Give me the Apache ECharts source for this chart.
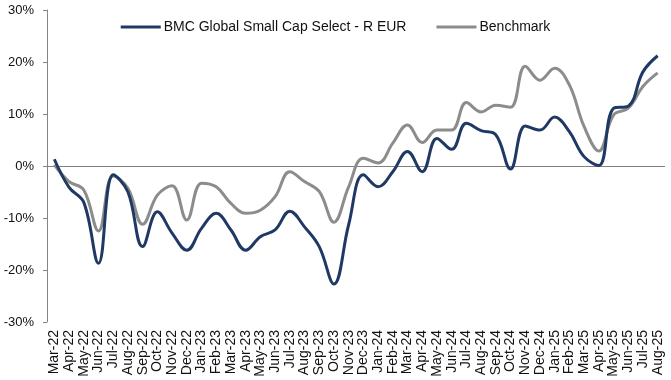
<!DOCTYPE html>
<html><head><meta charset="utf-8">
<script src="https://cdn.jsdelivr.net/npm/echarts@6/dist/echarts.min.js"></script>
<style>html,body{margin:0;padding:0;background:#fff}#c{width:671px;height:380px}</style>
</head><body><div id="c"></div>
<script>
var months = ["Mar-22","Apr-22","May-22","Jun-22","Jul-22","Aug-22","Sep-22","Oct-22","Nov-22","Dec-22","Jan-23","Feb-23","Mar-23","Apr-23","May-23","Jun-23","Jul-23","Aug-23","Sep-23","Oct-23","Nov-23","Dec-23","Jan-24","Feb-24","Mar-24","Apr-24","May-24","Jun-24","Jul-24","Aug-24","Sep-24","Oct-24","Nov-24","Dec-24","Jan-25","Feb-25","Mar-25","Apr-25","May-25","Jun-25","Jul-25","Aug-25"];
var fund = [1.3,-4.1,-7.0,-18.7,-1.7,-5.0,-15.5,-8.8,-12.9,-16.2,-12.0,-9.1,-12.3,-16.2,-13.6,-12.3,-8.7,-11.7,-15.5,-22.7,-11.3,-1.7,-4.0,-1.1,2.8,-1.1,5.3,3.2,8.2,6.8,6.0,-0.6,7.7,6.9,9.4,6.6,1.8,0.1,11.1,11.5,18.1,21.2];
var bench = [0.2,-3.0,-4.6,-12.5,-1.9,-4.3,-11.2,-5.6,-3.8,-10.4,-3.3,-4.0,-7.2,-9.1,-8.5,-5.9,-1.1,-3.0,-4.9,-10.8,-4.0,1.5,0.6,4.4,7.9,4.5,6.9,6.9,12.2,10.4,11.7,11.3,19.2,16.5,18.8,15.6,7.6,2.9,9.8,11.1,15.3,17.9];
var seriesNames = ["BMC Global Small Cap Select - R EUR","Benchmark"];
var yTicks = {min:-30, max:30, interval:10};

var chart = echarts.init(document.getElementById('c'));
var font = 'Liberation Sans, Arial, sans-serif';
chart.setOption({
  animation:false,
  textStyle:{fontFamily:font},
  legend:{
    top:15, left:'center',
    itemWidth:40, itemHeight:3, itemGap:30,
    icon:'rect',
    textStyle:{fontSize:14, color:'#111', fontFamily:font, padding:[0,0,0,-2]},
    data:seriesNames
  },
  grid:{left:47, right:6, top:10, bottom:58, containLabel:false},
  xAxis:{
    type:'category', data:months, boundaryGap:true,
    axisLine:{show:false}, axisTick:{show:false},
    axisLabel:{rotate:90, fontSize:14, color:'#111', margin:8, interval:0, fontFamily:font}
  },
  yAxis:{
    type:'value', min:yTicks.min, max:yTicks.max, interval:yTicks.interval,
    axisLine:{show:true, lineStyle:{color:'#868686'}},
    axisTick:{show:true, length:4, lineStyle:{color:'#868686'}},
    splitLine:{show:false},
    axisLabel:{formatter:'{value}%', fontSize:13, color:'#111', margin:13, fontFamily:font}
  },
  series:[
    {name:seriesNames[0], type:'line', data:fund, smooth:0.4, showSymbol:false, symbol:'none',
     lineStyle:{width:3, color:'#1F3864'}, itemStyle:{color:'#1F3864'}, z:3,
     markLine:{silent:true, symbol:'none', label:{show:false}, lineStyle:{color:'#808080', width:1, type:'solid'}, data:[{yAxis:0}], z:1}},
    {name:seriesNames[1], type:'line', data:bench, smooth:0.4, showSymbol:false, symbol:'none',
     lineStyle:{width:3, color:'#8C8C8C'}, itemStyle:{color:'#8C8C8C'}, z:2}
  ]
});
</script></body></html>
